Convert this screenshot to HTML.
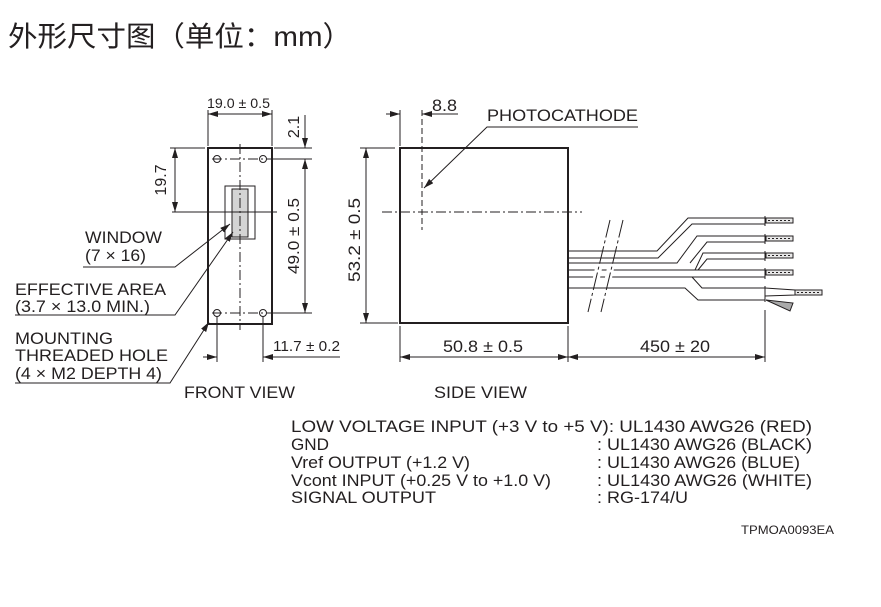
<!DOCTYPE html>
<html><head><meta charset="utf-8"><style>
html,body{margin:0;padding:0;background:#fff;}
svg{display:block;}
text{font-family:"Liberation Sans",Arial,sans-serif;fill:#231f20;}
</style></head><body>
<svg width="881" height="607" viewBox="0 0 881 607" xmlns="http://www.w3.org/2000/svg">
<defs>
<marker id="a" viewBox="0 0 10 6" refX="10" refY="3" markerWidth="10" markerHeight="6" orient="auto-start-reverse" markerUnits="userSpaceOnUse"><path d="M0,0 L10,3 L0,6 Z" fill="#231f20"/></marker>
</defs>
<text x="8" y="46" style="font-family:'Liberation Sans','Noto Sans CJK SC',sans-serif;font-size:28px" fill="#222" textLength="344" lengthAdjust="spacingAndGlyphs">外形尺寸图（单位：mm）</text>

<g stroke="#231f20" fill="none" stroke-width="1">
<rect x="208" y="148" width="64" height="176" stroke-width="2"/>
<rect x="225" y="186" width="30" height="53"/>
<rect x="232" y="189" width="16" height="48" fill="#d4d4d4"/>
<line x1="240" y1="144" x2="240" y2="330" stroke-dasharray="10,3,2,3"/>
<line x1="212" y1="159" x2="268" y2="159" stroke-dasharray="10,3,2,3"/>
<line x1="212" y1="313" x2="268" y2="313" stroke-dasharray="10,3,2,3"/>
<circle cx="217" cy="159" r="3.5"/><circle cx="263" cy="159" r="3.5"/>
<circle cx="217" cy="313" r="3.5"/><circle cx="263" cy="313" r="3.5"/>
<line x1="172" y1="212" x2="277" y2="212"/>
<line x1="208" y1="110" x2="208" y2="146"/><line x1="272" y1="110" x2="272" y2="146"/>
<line x1="208" y1="114" x2="272" y2="114" marker-start="url(#a)" marker-end="url(#a)"/>
<line x1="170" y1="148" x2="205" y2="148"/>
<line x1="175" y1="148" x2="175" y2="212" marker-start="url(#a)" marker-end="url(#a)"/>
<line x1="274" y1="148" x2="312" y2="148"/><line x1="268" y1="159" x2="312" y2="159"/>
<line x1="268" y1="313" x2="312" y2="313"/>
<line x1="305" y1="115" x2="305" y2="148" marker-end="url(#a)"/>
<line x1="305" y1="159" x2="305" y2="313" marker-start="url(#a)" marker-end="url(#a)"/>
<line x1="217" y1="316" x2="217" y2="362"/><line x1="263" y1="316" x2="263" y2="362"/>
<line x1="203" y1="357" x2="217" y2="357" marker-end="url(#a)"/>
<line x1="263" y1="357" x2="340" y2="357" marker-start="url(#a)"/>
<polyline points="83,267 175,267 230,224" marker-end="url(#a)"/>
<polyline points="15,315 175,315 233,232" marker-end="url(#a)"/>
<polyline points="15,383 170,383 209,322" marker-end="url(#a)"/>

<rect x="400" y="148" width="168" height="175" stroke-width="2"/>
<line x1="382" y1="212" x2="582" y2="212" stroke-dasharray="10,3,2,3"/>
<line x1="422" y1="110" x2="422" y2="230" stroke-dasharray="6,3"/>
<line x1="400" y1="110" x2="400" y2="146"/>
<line x1="386" y1="114" x2="400" y2="114" marker-end="url(#a)"/>
<line x1="436" y1="114" x2="422" y2="114" marker-end="url(#a)"/>
<line x1="422" y1="114" x2="458" y2="114"/>
<polyline points="638,127 487,127 424,188" marker-end="url(#a)"/>
<line x1="360" y1="148" x2="395" y2="148"/><line x1="360" y1="323" x2="398" y2="323"/>
<line x1="366" y1="148" x2="366" y2="323" marker-start="url(#a)" marker-end="url(#a)"/>
<line x1="400" y1="326" x2="400" y2="362"/><line x1="568" y1="326" x2="568" y2="362"/><line x1="765" y1="310" x2="765" y2="362"/>
<line x1="400" y1="357" x2="568" y2="357" marker-start="url(#a)" marker-end="url(#a)"/>
<line x1="568" y1="357" x2="765" y2="357" marker-start="url(#a)" marker-end="url(#a)"/>
<polyline points="568,251 657,251 688,218 765,218"/>
<polyline points="568,258 658,258 692,224 765,224"/>
<polyline points="568,263 677,263 697,236 765,236"/>
<polyline points="690,263 707,242 765,242"/>
<polyline points="568,270 695,270 703,253 765,253"/>
<polyline points="698,270 707,259 765,259"/>
<polyline points="568,277 765,277"/>
<line x1="568" y1="270" x2="765" y2="270"/>
<polyline points="692,277 702,288 765,288"/>
<polyline points="568,288 685,288 698,300 765,300"/>
<line x1="765" y1="216" x2="765" y2="226"/><line x1="765" y1="234" x2="765" y2="244"/>
<line x1="765" y1="251" x2="765" y2="261"/><line x1="765" y1="268" x2="765" y2="279"/>
<line x1="765" y1="286" x2="765" y2="302"/>
</g>
<g stroke="#231f20" stroke-width="1" fill="#e8e8e8">
<rect x="766" y="218" width="27" height="5"/>
<rect x="766" y="236" width="27" height="5"/>
<rect x="766" y="253" width="27" height="5"/>
<rect x="766" y="270" width="27" height="5"/>
<rect x="795" y="290" width="27" height="5"/>
<polyline points="765,288 795,290 795,295 765,296" fill="none"/>
<polygon points="766,300 793,303 790,311" fill="#aaa"/>
</g>
<g stroke="#231f20" stroke-width="1" stroke-dasharray="2,2">
<line x1="768" y1="220.5" x2="792" y2="220.5"/><line x1="768" y1="238.5" x2="792" y2="238.5"/>
<line x1="768" y1="255.5" x2="792" y2="255.5"/><line x1="768" y1="272.5" x2="792" y2="272.5"/>
<line x1="797" y1="292.5" x2="821" y2="292.5"/>
</g>
<g stroke="#fff" stroke-width="7"><line x1="599" y1="266" x2="596" y2="280"/><line x1="611" y1="266" x2="608" y2="280"/></g>
<g stroke="#231f20" stroke-width="1" stroke-dasharray="18,3,3,3">
<line x1="610" y1="220" x2="588" y2="312"/><line x1="623" y1="220" x2="601" y2="312"/>
</g>

<g lengthAdjust="spacingAndGlyphs">
<text x="207" y="108" font-size="14" textLength="63" lengthAdjust="spacingAndGlyphs">19.0 ± 0.5</text>
<text x="273" y="351" font-size="15" textLength="67" lengthAdjust="spacingAndGlyphs">11.7 ± 0.2</text>
</g>
<text transform="translate(166,180) rotate(-90)" font-size="16" text-anchor="middle">19.7</text>
<text transform="translate(299,127) rotate(-90)" font-size="16" text-anchor="middle">2.1</text>
<text transform="translate(299,236) rotate(-90)" font-size="16" text-anchor="middle" textLength="76" lengthAdjust="spacingAndGlyphs">49.0 ± 0.5</text>
<text transform="translate(360,240) rotate(-90)" font-size="17" text-anchor="middle" textLength="84" lengthAdjust="spacingAndGlyphs">53.2 ± 0.5</text>
<g font-size="17">
<text x="85" y="243" textLength="77" lengthAdjust="spacingAndGlyphs">WINDOW</text>
<text x="85" y="261" textLength="61" lengthAdjust="spacingAndGlyphs">(7 × 16)</text>
<text x="15" y="295" textLength="151" lengthAdjust="spacingAndGlyphs">EFFECTIVE AREA</text>
<text x="15" y="312" textLength="135" lengthAdjust="spacingAndGlyphs">(3.7 × 13.0 MIN.)</text>
<text x="15" y="344" textLength="98" lengthAdjust="spacingAndGlyphs">MOUNTING</text>
<text x="15" y="361" textLength="153" lengthAdjust="spacingAndGlyphs">THREADED HOLE</text>
<text x="15" y="379" textLength="147" lengthAdjust="spacingAndGlyphs">(4 × M2 DEPTH 4)</text>
<text x="184" y="398" textLength="111" lengthAdjust="spacingAndGlyphs">FRONT VIEW</text>
<text x="432" y="111" textLength="25" lengthAdjust="spacingAndGlyphs">8.8</text>
<text x="487" y="121" textLength="151" lengthAdjust="spacingAndGlyphs">PHOTOCATHODE</text>
<text x="443" y="352" textLength="80" lengthAdjust="spacingAndGlyphs">50.8 ± 0.5</text>
<text x="640" y="352" textLength="70" lengthAdjust="spacingAndGlyphs">450 ± 20</text>
<text x="434" y="398" textLength="93" lengthAdjust="spacingAndGlyphs">SIDE VIEW</text>
<text x="291" y="432" textLength="521" lengthAdjust="spacingAndGlyphs">LOW VOLTAGE INPUT (+3 V to +5 V): UL1430 AWG26 (RED)</text>
<text x="291" y="450" textLength="38" lengthAdjust="spacingAndGlyphs">GND</text>
<text x="291" y="468" textLength="179" lengthAdjust="spacingAndGlyphs">Vref OUTPUT (+1.2 V)</text>
<text x="291" y="486" textLength="260" lengthAdjust="spacingAndGlyphs">Vcont INPUT (+0.25 V to +1.0 V)</text>
<text x="291" y="503" textLength="145" lengthAdjust="spacingAndGlyphs">SIGNAL OUTPUT</text>
<text x="597" y="450" textLength="215" lengthAdjust="spacingAndGlyphs">: UL1430 AWG26 (BLACK)</text>
<text x="597" y="468" textLength="203" lengthAdjust="spacingAndGlyphs">: UL1430 AWG26 (BLUE)</text>
<text x="597" y="486" textLength="215" lengthAdjust="spacingAndGlyphs">: UL1430 AWG26 (WHITE)</text>
<text x="597" y="503" textLength="91" lengthAdjust="spacingAndGlyphs">: RG-174/U</text>
</g>
<text x="741" y="534" font-size="12" textLength="93" lengthAdjust="spacingAndGlyphs">TPMOA0093EA</text>
</svg>
</body></html>
